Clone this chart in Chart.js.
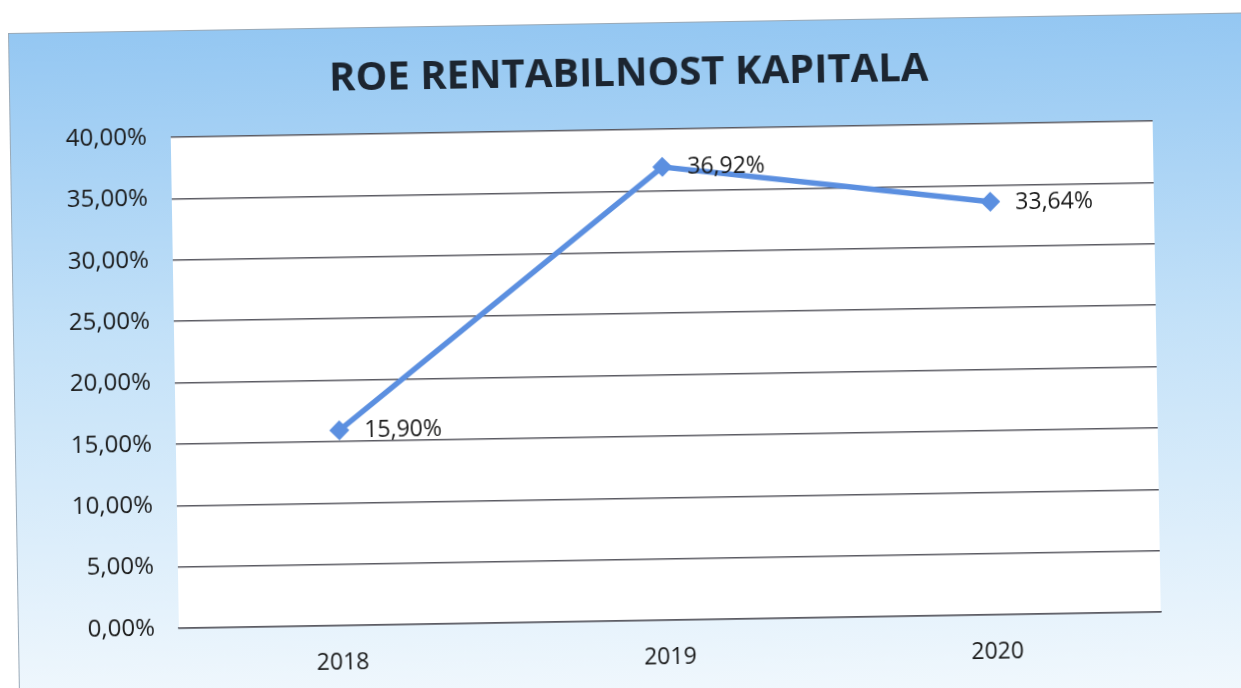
<!DOCTYPE html>
<html>
<head>
<meta charset="utf-8">
<script src="https://cdn.jsdelivr.net/npm/chart.js@4/dist/chart.umd.min.js"></script>
<style>
  html, body { margin: 0; padding: 0; background: #ffffff; overflow: hidden; width: 1241px; height: 688px; }
  #wrap { position: absolute; left: 8px; top: 33px; width: 1238px; height: 680px;
          transform-origin: 0 0; transform: rotate(-0.95deg); }
  canvas { display: block; }
</style>
</head>
<body>
<div id="wrap"><canvas id="c" width="1238" height="680"></canvas></div>
<script>
const categories = ['2018', '2019', '2020'];
const roeValues = [15.90, 36.92, 33.64];
const yTicks = [0, 5, 10, 15, 20, 25, 30, 35, 40];
const chartTitle = 'ROE RENTABILNOST KAPITALA';

const fmt = v => v.toFixed(2).replace('.', ',') + '%';

const bgPlugin = {
  id: 'bg',
  beforeDraw(chart) {
    const { ctx, width, height, chartArea: a } = chart;
    ctx.save();
    const g = ctx.createLinearGradient(0, 0, 0, height);
    g.addColorStop(0, '#94c7f2');
    g.addColorStop(0.45, '#c3e1f8');
    g.addColorStop(1, '#f1f8fd');
    ctx.fillStyle = g;
    ctx.fillRect(0, 0, width, height);
    ctx.strokeStyle = '#9aaab8';
    ctx.lineWidth = 1;
    ctx.strokeRect(0.5, 0.5, width - 1, height - 1);
    ctx.fillStyle = '#ffffff';
    ctx.fillRect(a.left, a.top, a.right - a.left, a.bottom - a.top);
    ctx.restore();
  }
};

const titlePlugin = {
  id: 'ttl',
  afterDraw(chart) {
    const { ctx } = chart;
    ctx.save();
    ctx.font = 'bold 40px "Open Sans", sans-serif';
    ctx.fillStyle = '#1c2530';
    ctx.textAlign = 'center';
    ctx.textBaseline = 'middle';
    ctx.fillText(chartTitle, 620, 52);
    ctx.restore();
  }
};

const labelPlugin = {
  id: 'vlabels',
  afterDatasetsDraw(chart) {
    const { ctx } = chart;
    const meta = chart.getDatasetMeta(0);
    ctx.save();
    ctx.font = '23px "Open Sans", sans-serif';
    ctx.fillStyle = '#1a1a1a';
    ctx.textAlign = 'left';
    ctx.textBaseline = 'middle';
    meta.data.forEach((pt, i) => {
      ctx.fillText(fmt(roeValues[i]), pt.x + 25, pt.y + 1);
    });
    ctx.restore();
  }
};

new Chart(document.getElementById('c'), {
  type: 'line',
  data: {
    labels: categories,
    datasets: [{
      data: roeValues,
      borderColor: '#5b8fe0',
      backgroundColor: '#5b8fe0',
      borderWidth: 5.5,
      pointStyle: 'rectRot',
      pointRadius: 10,
      pointBorderWidth: 0,
      tension: 0,
      fill: false
    }]
  },
  options: {
    responsive: false,
    animation: false,
    events: [],
    layout: { padding: { left: 0, right: 95, top: 107, bottom: 0 } },
    plugins: {
      legend: { display: false },
      tooltip: { enabled: false },
      title: { display: false }
    },
    scales: {
      x: {
        offset: true,
        grid: { display: false, drawTicks: false },
        border: { display: true, color: '#5a5a62', width: 1.5 },
        ticks: { color: '#1a1a1a', padding: 24, font: { family: '"Open Sans", sans-serif', size: 23 } },
        afterFit(s) { s.height = 82; }
      },
      y: {
        min: 0, max: 40,
        afterBuildTicks(s) { s.ticks = yTicks.map(v => ({ value: v })); },
        grid: { color: '#5a5a62', lineWidth: 1.5, drawTicks: false },
        border: { display: false },
        ticks: { color: '#1a1a1a', padding: 24, font: { family: '"Open Sans", sans-serif', size: 24 },
                 callback: v => fmt(v) },
        afterFit(s) { s.width = 161; }
      }
    }
  },
  plugins: [bgPlugin, titlePlugin, labelPlugin]
});
</script>
</body>
</html>
